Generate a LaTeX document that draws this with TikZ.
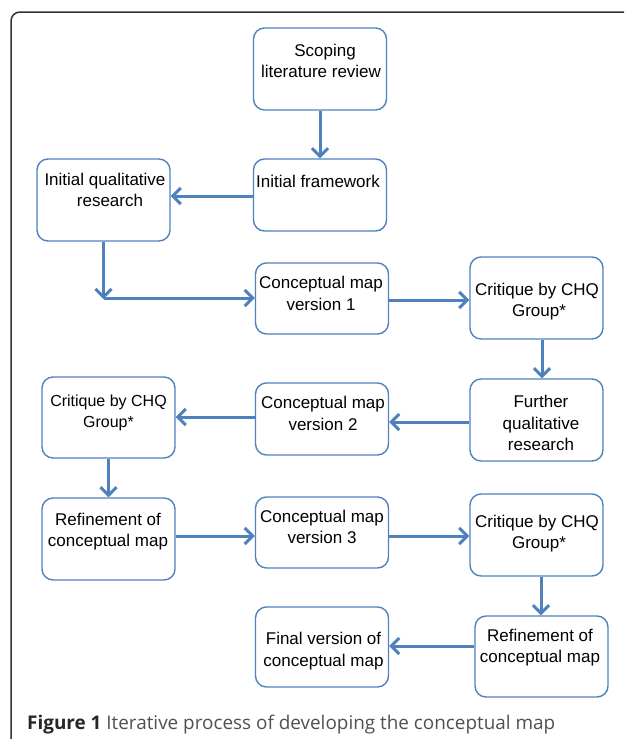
\documentclass[tikz,border=0pt]{standalone}
\usepackage{fontspec}
\setmainfont{Liberation Sans}
\newfontfamily\capfont{Open Sans}
\usetikzlibrary{arrows.meta}
\definecolor{boxblue}{RGB}{79,129,189}
\definecolor{framegray}{RGB}{50,50,50}
\definecolor{capgray}{RGB}{80,80,80}
\tikzset{
  box/.style={draw=boxblue, line width=1.4pt, rounded corners=11pt, minimum width=133pt, inner sep=0pt},
  txt/.style={align=center, inner sep=0pt, font=\fontsize{17}{21.5}\selectfont, text=black},
  arr/.style={draw=boxblue, line width=3pt, -{Straight Barb[length=8pt,width=16pt,line width=3pt]}},
}
\begin{document}
\begin{tikzpicture}[x=1pt,y=-1pt]
\useasboundingbox (0,0) rectangle (624,739);
% frame
\draw[framegray, line width=1.5pt, rounded corners=9pt] (11,739) -- (11,12) -- (624,12);
% boxes
\node[box, minimum height=82pt] (slr) at (320,69) {};
\node[box, minimum height=72pt] (ifw) at (320,195) {};
\node[box, minimum height=82pt] (iqr) at (103.5,200) {};
\node[box, minimum height=71pt] (cm1) at (322,298.5) {};
\node[box, minimum height=82pt] (cr1) at (536.5,298) {};
\node[box, minimum height=82pt] (fqr) at (536.5,420) {};
\node[box, minimum height=72pt] (cm2) at (322,419) {};
\node[box, minimum height=81pt] (cr2) at (108.5,417.5) {};
\node[box, minimum height=82pt] (rf1) at (108.5,539) {};
\node[box, minimum height=71pt] (cm3) at (322,532.5) {};
\node[box, minimum height=82pt] (cr3) at (536.5,535) {};
\node[box, minimum height=81pt] (rf2) at (541.5,656.5) {};
\node[box, minimum height=80pt] (fin) at (322,647) {};
% texts
\node[txt] (tslr) at (321,61) {\hspace*{8pt}Scoping\\literature review};
\node[txt] (tifw) at (318,181) {Initial framework};
\node[txt] (tiqr) at (105,190) {Initial qualitative\\\hspace*{10pt}research};
\node[txt] (tcm1) at (321,293.5) {Conceptual map\\version 1};
\node[txt] (tcr1) at (537,301.5) {Critique by CHQ\\\hspace*{4pt}Group*};
\node[txt] (tfqr) at (541,423) {Further\\qualitative\\research};
\node[txt] (tcm2) at (323,413.5) {Conceptual map\\version 2};
\node[txt, font=\fontsize{16}{21.5}\selectfont] (tcr2) at (108.5,413) {Critique by CHQ\\Group*};
\node[txt] (trf1) at (108,531.5) {Refinement of\\conceptual map};
\node[txt] (tcm3) at (322,527) {Conceptual map\\version 3};
\node[txt] (tcr3) at (537,533.5) {Critique by CHQ\\\hspace*{4pt}Group*};
\node[txt] (tfin) at (323.5,651) {Final version of\\conceptual map};
\node[txt] (trf2) at (540,647.5) {Refinement of\\conceptual map};
% connector points
\coordinate (corner) at (103.5,298);
\path (ifw.west) ++(0,1) coordinate (s2);
\path (cm1.east) ++(0,1.5) coordinate (s5);
\path (cr1.south) ++(5.5,0) coordinate (s6);
\path (fqr.west) ++(0,2) coordinate (s7);
\path (cm2.west) ++(0,-2) coordinate (s8);
\path (rf1.east) ++(0,-3) coordinate (s10);
\path (cm3.east) ++(0,3.5) coordinate (s11);
\path (cr3.south) ++(4.5,0) coordinate (s12);
\path (rf2.west) ++(0,-10.5) coordinate (s13);
% arrows
\draw[arr] (slr.south) -- (ifw.north);
\draw[arr] (s2) -- (s2 -| iqr.east);
\draw[arr] (iqr.south) -- ([yshift=-1pt]corner);
\draw[arr] (corner) -- (corner -| cm1.west);
\draw[arr] (s5) -- (s5 -| cr1.west);
\draw[arr] (s6) -- (s6 |- fqr.north);
\draw[arr] (s7) -- (s7 -| cm2.east);
\draw[arr] (s8) -- (s8 -| cr2.east);
\draw[arr] (cr2.south) -- (rf1.north);
\draw[arr] (s10) -- (s10 -| cm3.west);
\draw[arr] (s11) -- (s11 -| cr3.west);
\draw[arr] (s12) -- (s12 |- rf2.north);
\draw[arr] (s13) -- (s13 -| fin.east);
% caption
\node[anchor=base west, inner sep=0pt, font=\capfont\fontsize{18.9}{22}\selectfont, text=capgray] (cap) at (27,729) {\textcolor{black!85}{\textbf{Figure 1}} Iterative process of developing the conceptual map};
\end{tikzpicture}
\end{document}
